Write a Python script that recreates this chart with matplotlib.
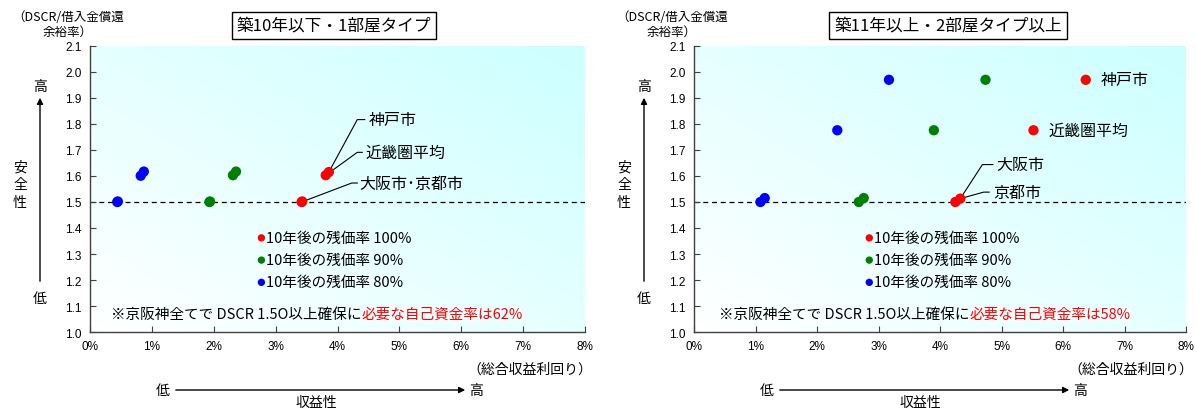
import numpy as np
import matplotlib
matplotlib.use('Agg')
import matplotlib.pyplot as plt

plt.rcParams['font.family'] = ['Noto Sans CJK JP', 'DejaVu Sans']

# ---- data (x: 総合収益利回り %, y: DSCR) ----
cities = ['大阪市', '京都市', '近畿圏平均', '神戸市']
rates = ['100%', '90%', '80%']

# 築10年以下・1部屋タイプ
left_x_100 = [3.42, 3.43, 3.81, 3.86]
left_y_100 = [1.500, 1.502, 1.603, 1.615]
left_x_90 = [1.93, 1.94, 2.31, 2.36]
left_y_90 = [1.500, 1.502, 1.603, 1.617]
left_x_80 = [0.44, 0.45, 0.82, 0.87]
left_y_80 = [1.500, 1.502, 1.601, 1.617]

# 築11年以上・2部屋タイプ以上
right_x_100 = [4.25, 4.33, 5.52, 6.37]
right_y_100 = [1.500, 1.513, 1.776, 1.970]
right_x_90 = [2.68, 2.76, 3.90, 4.74]
right_y_90 = [1.500, 1.515, 1.776, 1.970]
right_x_80 = [1.08, 1.15, 2.33, 3.17]
right_y_80 = [1.500, 1.515, 1.776, 1.970]

titles = ['築10年以下・1部屋タイプ', '築11年以上・2部屋タイプ以上']
own_fund = ['62%', '58%']
colors = ['#FF0000', '#008000', '#0000FF']

W, H = 1197, 410
fig = plt.figure(figsize=(W / 100, H / 100), dpi=100)


def fx(px):
    return px / W


def fy(py):
    return 1 - py / H


def panel(x0, x1, xs, ys, title, fund, labels, legend_x, note_x, off):
    ax = fig.add_axes([fx(x0), fy(333), fx(x1) - fx(x0), fy(47) - fy(333)])
    ax.set_xlim(0, 8)
    ax.set_ylim(1.0, 2.1)

    # background gradient
    g = np.linspace(0, 1, 200)
    gx, gy = np.meshgrid(g, g)
    t = (gx + gy) / 2
    img = np.dstack([1 - 0.2 * t, np.ones_like(t), np.ones_like(t)])
    ax.imshow(img, extent=[0, 8, 1.0, 2.1], aspect='auto', origin='lower', zorder=0)

    ax.axhline(1.5, color='black', lw=0.9, ls=(0, (4, 3)), zorder=1)

    for (sx, sy), c in zip(zip(xs, ys), colors):
        ax.scatter(sx, sy, s=55, color=c, edgecolors='none', zorder=3)

    # city labels with leader lines
    for name, idx, pts, tx, ty in labels:
        if pts:
            lx = [xs[0][idx]] + [p[0] for p in pts]
            ly = [ys[0][idx]] + [p[1] for p in pts]
            ax.plot(lx, ly, color='black', lw=0.8, zorder=2)
        ax.text(tx, ty, name, fontsize=11.5, va='center', ha='left', zorder=4)

    # legend
    for i, (r, c) in enumerate(zip(rates, colors)):
        ly = 1.362 - i * 0.0855
        ax.scatter([legend_x], [ly], s=28, color=c, edgecolors='none', zorder=3)
        ax.text(legend_x + 0.07, ly, '10年後の残価率 ' + r, fontsize=10.5, va='center', ha='left')

    t1 = ax.text(note_x, 1.07, '※京阪神全てで DSCR 1.5O以上確保に', fontsize=10.5, va='center', ha='left')
    ax.annotate('必要な自己資金率は' + fund, xy=(1, 0.5), xycoords=t1, va='center', ha='left',
                fontsize=10.5, color='#FF0000')

    ax.spines['top'].set_visible(False)
    ax.spines['right'].set_visible(False)
    for s in ['left', 'bottom']:
        ax.spines[s].set_color('#404040')
        ax.spines[s].set_linewidth(1.0)
    ax.set_yticks(np.round(np.arange(1.0, 2.11, 0.1), 1))
    ax.set_yticklabels(['%.1f' % v for v in np.arange(1.0, 2.11, 0.1)])
    ax.set_xticks(range(0, 9))
    ax.set_xticklabels(['%d%%' % v for v in range(0, 9)])
    ax.tick_params(direction='in', length=4, labelsize=8.5, color='#404040', pad=6)
    for lab in ax.get_xticklabels() + ax.get_yticklabels():
        lab.set_family(['Liberation Sans', 'DejaVu Sans'])

    # decorations outside the axes
    fig.text(fx(off + 334 + (0 if off == 0 else 10)), fy(26), title, fontsize=12, ha='center', va='center',
             bbox=dict(boxstyle='square,pad=0.3', fc='white', ec='black', lw=1))
    fig.text(fx(off + 68), fy(25), '（DSCR/借入金償還\n余裕率）', fontsize=9, ha='center', va='center',
             linespacing=1.25)
    fig.text(fx(off + 40), fy(87), '高', fontsize=10, ha='center', va='center')
    fig.text(fx(off + 40), fy(299), '低', fontsize=10, ha='center', va='center')
    fig.add_artist(matplotlib.patches.FancyArrowPatch((fx(off + 40), fy(285)), (fx(off + 40), fy(96)),
                   transform=fig.transFigure, arrowstyle='-|>', mutation_scale=9, lw=1, color='black'))
    for k, ch in enumerate('安全性'):
        fig.text(fx(off + 20), fy(168 + k * 17.5), ch, fontsize=10, ha='center', va='center')
    fig.text(fx(min(x1 + 7, 1194)), fy(370), '（総合収益利回り）', fontsize=10, ha='right', va='center')
    fig.text(fx(off + 163), fy(391), '低', fontsize=10, ha='center', va='center')
    fig.text(fx(off + 476), fy(391), '高', fontsize=10, ha='center', va='center')
    fig.add_artist(matplotlib.patches.FancyArrowPatch((fx(off + 173), fy(391)), (fx(off + 468), fy(391)),
                   transform=fig.transFigure, arrowstyle='-|>', mutation_scale=9, lw=1, color='black'))
    fig.text(fx(off + 316), fy(403), '収益性', fontsize=10, ha='center', va='center')
    return ax


left_labels = [
    ('神戸市', 3, [(4.32, 1.817), (4.44, 1.817)], 4.50, 1.817),
    ('近畿圏平均', 2, [(4.32, 1.691), (4.40, 1.691)], 4.45, 1.691),
    ('大阪市･京都市', 0, [(4.23, 1.573), (4.32, 1.573)], 4.36, 1.573),
]
right_labels = [
    ('神戸市', 3, None, 6.61, 1.970),
    ('近畿圏平均', 2, None, 5.77, 1.776),
    ('大阪市', 1, [(4.69, 1.644), (4.86, 1.644)], 4.92, 1.644),
    ('京都市', 1, [(4.71, 1.538), (4.80, 1.538)], 4.86, 1.538),
]

panel(90, 585,
      [left_x_100, left_x_90, left_x_80], [left_y_100, left_y_90, left_y_80],
      titles[0], own_fund[0], left_labels, 2.77, 0.34, 0)
panel(694, 1186,
      [right_x_100, right_x_90, right_x_80], [right_y_100, right_y_90, right_y_80],
      titles[1], own_fund[1], right_labels, 2.85, 0.40, 604)

fig.savefig('out.png', dpi=100)
